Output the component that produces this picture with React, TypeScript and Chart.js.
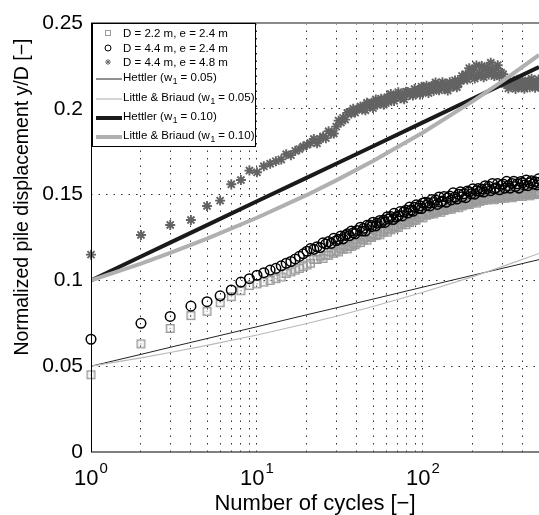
import React, { useEffect, useRef } from 'react';
import { Chart, registerables } from 'chart.js';

Chart.register(...registerables);

// ---------- data ----------
const cycles = [
  1, 2, 3, 4, 5, 6, 7, 8, 9, 10, 11, 12, 13, 14, 15, 16, 17, 18, 19, 20,
  21, 22, 23, 24, 25, 26, 27, 28, 29, 30, 31, 32, 33, 34, 35, 36, 37, 38, 39, 40,
  42, 43, 44, 45, 46, 48, 49, 50, 52, 53, 55, 56, 58, 59, 61, 62, 64, 66, 67, 69,
  71, 73, 75, 77, 79, 81, 83, 85, 87, 89, 91, 94, 96, 98, 100,
  103, 105, 108, 110, 113, 116, 119, 122, 125, 128, 131, 134, 138, 141, 145, 148, 152, 156, 160, 164,
  168, 172, 176, 181, 185, 190, 195, 200, 205, 210, 215, 220, 226, 232, 237, 243, 249, 256, 262, 269,
  275, 282, 289, 296, 304, 311, 319, 327, 335, 344, 352, 361, 370, 379, 389, 398, 408, 419, 429, 440,
  451, 462, 474, 485, 497, 500,
];

// D = 2.2 m, e = 2.4 m (squares)
const pileD22e24 = [
  0.045, 0.063, 0.072, 0.0795, 0.082, 0.087, 0.0905, 0.094, 0.097, 0.098, 0.099, 0.1, 0.101, 0.102, 0.104, 0.105, 0.106, 0.107, 0.108, 0.109,
  0.11, 0.1122, 0.1122, 0.1141, 0.1128, 0.1147, 0.1146, 0.1166, 0.1158, 0.117, 0.1166, 0.1185, 0.1182, 0.1199, 0.1184, 0.1201, 0.1198, 0.1217, 0.1208, 0.1218,
  0.1221, 0.1239, 0.1235, 0.1251, 0.1235, 0.1255, 0.125, 0.1268, 0.1261, 0.127, 0.1266, 0.1284, 0.1281, 0.1296, 0.1282, 0.1298, 0.1295, 0.1314, 0.1304, 0.1315,
  0.1309, 0.1328, 0.1325, 0.1341, 0.1325, 0.1342, 0.1338, 0.1356, 0.1348, 0.1357, 0.1351, 0.1371, 0.1366, 0.1382, 0.1365,
  0.1386, 0.138, 0.1397, 0.1386, 0.1395, 0.1388, 0.1405, 0.14, 0.1414, 0.1397, 0.1412, 0.1407, 0.1424, 0.1413, 0.1422, 0.1415, 0.1432, 0.1426, 0.1441, 0.1424,
  0.1439, 0.1434, 0.1451, 0.1441, 0.1449, 0.1442, 0.1459, 0.1453, 0.1468, 0.1451, 0.1466, 0.1461, 0.1478, 0.1467, 0.1476, 0.1469, 0.1485, 0.1475, 0.1488, 0.147,
  0.1484, 0.1477, 0.1492, 0.148, 0.1488, 0.1479, 0.1494, 0.1487, 0.15, 0.1482, 0.1496, 0.1489, 0.1504, 0.1492, 0.1499, 0.149, 0.1505, 0.1499, 0.1512, 0.1493,
  0.1507, 0.15, 0.1515, 0.1504, 0.1511, 0.1501,
];

// D = 4.4 m, e = 2.4 m (circles)
const pileD44e24 = [
  0.0657, 0.075, 0.079, 0.085, 0.0876, 0.091, 0.0944, 0.099, 0.101, 0.103, 0.1045, 0.106, 0.107, 0.1085, 0.11, 0.111, 0.1125, 0.114, 0.1155, 0.117,
  0.1185, 0.1181, 0.1196, 0.1191, 0.1219, 0.1212, 0.1226, 0.1216, 0.1245, 0.1231, 0.124, 0.1259, 0.1242, 0.1262, 0.1271, 0.126, 0.1287, 0.1277, 0.1272, 0.1291,
  0.131, 0.1288, 0.1304, 0.1288, 0.1321, 0.1322, 0.1313, 0.1339, 0.1318, 0.1334, 0.1349, 0.1337, 0.1351, 0.1338, 0.1371, 0.1358, 0.1372, 0.1355, 0.1391, 0.1369,
  0.1377, 0.1401, 0.1376, 0.14, 0.1409, 0.1393, 0.1427, 0.141, 0.1403, 0.1426, 0.144, 0.142, 0.1435, 0.1419, 0.1451,
  0.1455, 0.1437, 0.1452, 0.1434, 0.1471, 0.1453, 0.1468, 0.1443, 0.1486, 0.1456, 0.1463, 0.1489, 0.1455, 0.1482, 0.1491, 0.1469, 0.151, 0.1486, 0.1474, 0.1502,
  0.1516, 0.1487, 0.1505, 0.1482, 0.1521, 0.1516, 0.1504, 0.1534, 0.1503, 0.1522, 0.1535, 0.1518, 0.1533, 0.1515, 0.1552, 0.1534, 0.1548, 0.1523, 0.1565, 0.1534,
  0.154, 0.1564, 0.1528, 0.1554, 0.1562, 0.1538, 0.1577, 0.1552, 0.1538, 0.1565, 0.1578, 0.1547, 0.1563, 0.1538, 0.1576, 0.1569, 0.1555, 0.1585, 0.1552, 0.1569,
  0.1581, 0.1562, 0.1575, 0.1557, 0.1592, 0.1571,
];

// D = 4.4 m, e = 4.8 m (asterisks)
const pileD44e48 = [
  0.115, 0.1265, 0.1323, 0.1352, 0.1434, 0.1465, 0.156, 0.1585, 0.164, 0.163, 0.1665, 0.168, 0.1695, 0.1705, 0.1735, 0.173, 0.1755, 0.1765, 0.178, 0.179,
  0.18, 0.1824, 0.1799, 0.1824, 0.1839, 0.1829, 0.1869, 0.1858, 0.1856, 0.1896, 0.1931, 0.192, 0.1947, 0.1937, 0.1976, 0.198, 0.1973, 0.2, 0.1978, 0.1996,
  0.2013, 0.1996, 0.2014, 0.1992, 0.2035, 0.2017, 0.2035, 0.2004, 0.2054, 0.2023, 0.2033, 0.2059, 0.2023, 0.2056, 0.2067, 0.204, 0.2086, 0.2063, 0.2046, 0.2079,
  0.2097, 0.2062, 0.2083, 0.2055, 0.21, 0.2098, 0.2081, 0.2094, 0.2077, 0.2115, 0.2097, 0.211, 0.2084, 0.2129, 0.2098,
  0.2105, 0.2134, 0.2092, 0.2124, 0.2133, 0.2105, 0.2153, 0.2124, 0.2108, 0.214, 0.2155, 0.2118, 0.2138, 0.2107, 0.2154, 0.2145, 0.2129, 0.2165, 0.2126, 0.2147,
  0.2164, 0.2192, 0.2171, 0.2202, 0.2171, 0.2237, 0.22, 0.2226, 0.2176, 0.2252, 0.2195, 0.2204, 0.2249, 0.2184, 0.2229, 0.2242, 0.22, 0.2268, 0.2221, 0.2191,
  0.2234, 0.2254, 0.219, 0.221, 0.2201, 0.2145, 0.2147, 0.2119, 0.2163, 0.2136, 0.2152, 0.2116, 0.217, 0.2128, 0.2134, 0.2165, 0.2117, 0.215, 0.2158, 0.2126,
  0.2175, 0.2142, 0.2123, 0.2155, 0.2171, 0.2129,
];

const modelCycles = [1, 2, 3, 5, 10, 20, 30, 50, 100, 200, 300, 500];
const hettler005 = [0.05, 0.0569, 0.061, 0.0661, 0.073, 0.08, 0.084, 0.0891, 0.0961, 0.103, 0.107, 0.1121];
const littleBriaud005 = [0.05, 0.0549, 0.058, 0.0621, 0.0682, 0.0749, 0.0791, 0.0848, 0.0931, 0.1022, 0.108, 0.1157];
const hettler010 = [0.1, 0.1139, 0.122, 0.1322, 0.1461, 0.1599, 0.168, 0.1782, 0.1921, 0.206, 0.2141, 0.2243];
const littleBriaud010 = [0.1, 0.1098, 0.116, 0.1243, 0.1365, 0.1498, 0.1583, 0.1696, 0.1862, 0.2045, 0.216, 0.2314];

const seriesLabels = [
  'D = 2.2 m, e = 2.4 m',
  'D = 4.4 m, e = 2.4 m',
  'D = 4.4 m, e = 4.8 m',
  'Hettler (w_1 = 0.05)',
  'Little & Briaud (w_1 = 0.05)',
  'Hettler (w_1 = 0.10)',
  'Little & Briaud (w_1 = 0.10)',
];

const yTicks = [0, 0.05, 0.1, 0.15, 0.2, 0.25];
const yTickLabels = ['0', '0.05', '0.1', '0.15', '0.2', '0.25'];
const xGridTicks = [1, 2, 3, 4, 5, 6, 7, 8, 9, 10, 20, 30, 40, 50, 60, 70, 80, 90, 100, 200, 300, 400, 500];
const xMajorTicks = [1, 10, 100];
const xMajorExponents = ['0', '1', '2'];
const xTitle = 'Number of cycles [\u2212]';
const yTitle = 'Normalized pile displacement y/D [\u2212]';

// ---------- drawing helpers ----------
const FONT = '"Liberation Sans", Arial, Helvetica, sans-serif';

function drawSubText(ctx: CanvasRenderingContext2D, text: string, x: number, yMid: number) {
  const base = yMid + 4.2;
  const parts = text.split('_1');
  ctx.textAlign = 'left';
  ctx.textBaseline = 'alphabetic';
  ctx.font = `11.5px ${FONT}`;
  ctx.fillText(parts[0], x, base);
  let cx = x + ctx.measureText(parts[0]).width;
  if (parts.length > 1) {
    ctx.font = `8.5px ${FONT}`;
    ctx.fillText('1', cx + 0.5, base + 3);
    cx += ctx.measureText('1').width + 0.5;
    ctx.font = `11.5px ${FONT}`;
    ctx.fillText(parts[1], cx, base);
  }
}

const zeroPad = (s: any) => {
  s.paddingLeft = 0;
  s.paddingRight = 0;
  s.paddingTop = 0;
  s.paddingBottom = 0;
};

const decorPlugin = {
  id: 'decor',
  afterDraw(chart: any) {
    const { ctx, chartArea: a, scales } = chart;
    const xs = scales.x;
    const ys = scales.y;
    ctx.save();
    ctx.setLineDash([]);

    // axes box
    ctx.strokeStyle = '#8a8a8a';
    ctx.lineWidth = 2;
    ctx.beginPath();
    ctx.moveTo(a.left, a.top);
    ctx.lineTo(a.right, a.top);
    ctx.stroke();
    ctx.strokeStyle = '#555';
    ctx.lineWidth = 1.5;
    ctx.beginPath();
    ctx.moveTo(a.left, a.bottom);
    ctx.lineTo(a.right, a.bottom);
    ctx.stroke();
    ctx.strokeStyle = '#000';
    ctx.lineWidth = 1;
    ctx.beginPath();
    ctx.moveTo(a.left + 0.5, a.top);
    ctx.lineTo(a.left + 0.5, a.bottom);
    ctx.stroke();

    // y tick labels
    ctx.fillStyle = '#000';
    ctx.font = `21px ${FONT}`;
    ctx.textAlign = 'right';
    ctx.textBaseline = 'middle';
    yTicks.forEach((v, i) => ctx.fillText(yTickLabels[i], a.left - 8, ys.getPixelForValue(v)));

    // x tick labels 10^k
    ctx.textAlign = 'left';
    ctx.textBaseline = 'alphabetic';
    xMajorTicks.forEach((v, i) => {
      const px = xs.getPixelForValue(v);
      ctx.font = `22px ${FONT}`;
      const wb = ctx.measureText('10').width;
      ctx.font = `15px ${FONT}`;
      const we = ctx.measureText(xMajorExponents[i]).width;
      const start = px - (wb + we + 1) / 2;
      ctx.font = `22px ${FONT}`;
      ctx.fillText('10', start, a.bottom + 33);
      ctx.font = `15px ${FONT}`;
      ctx.fillText(xMajorExponents[i], start + wb + 1, a.bottom + 21);
    });

    // axis titles
    ctx.font = `22px ${FONT}`;
    ctx.textAlign = 'center';
    ctx.fillText(xTitle, (a.left + a.right) / 2, a.bottom + 58);
    ctx.save();
    ctx.translate(28, 197);
    ctx.rotate(-Math.PI / 2);
    ctx.font = `19.5px ${FONT}`;
    ctx.fillText(yTitle, 0, 0);
    ctx.restore();

    // legend
    const lx = a.left + 1;
    const ly = a.top;
    const lw = 164;
    const lh = 124;
    ctx.fillStyle = '#fff';
    ctx.fillRect(lx, ly, lw, lh);
    ctx.strokeStyle = '#000';
    ctx.lineWidth = 1;
    ctx.strokeRect(lx + 0.5, ly + 0.5, lw - 1, lh - 1);
    const rows = [10, 25, 39, 54, 74, 93, 112];
    const ds = chart.data.datasets;
    ds.forEach((d: any, i: number) => {
      const y = ly + rows[i];
      const mx = lx + 16;
      if (i === 0) {
        ctx.strokeStyle = '#999';
        ctx.lineWidth = 1;
        ctx.strokeRect(mx - 2.5, y - 2.5, 5, 5);
      } else if (i === 1) {
        ctx.strokeStyle = '#000';
        ctx.lineWidth = 1;
        ctx.beginPath();
        ctx.arc(mx, y, 3, 0, Math.PI * 2);
        ctx.stroke();
      } else if (i === 2) {
        ctx.strokeStyle = '#666';
        ctx.lineWidth = 1;
        ctx.beginPath();
        for (let k = 0; k < 4; k++) {
          const ang = (k * Math.PI) / 4;
          ctx.moveTo(mx - 3 * Math.cos(ang), y - 3 * Math.sin(ang));
          ctx.lineTo(mx + 3 * Math.cos(ang), y + 3 * Math.sin(ang));
        }
        ctx.stroke();
      } else {
        ctx.strokeStyle = d.borderColor;
        ctx.lineWidth = d.borderWidth;
        ctx.beginPath();
        ctx.moveTo(lx + 4, y + 2);
        ctx.lineTo(lx + 30, y + 2);
        ctx.stroke();
      }
      ctx.fillStyle = '#000';
      drawSubText(ctx, d.label, lx + 31, y);
    });

    ctx.restore();
  },
};

function makeSquareMarker(): HTMLCanvasElement {
  const c = document.createElement('canvas');
  c.width = 11;
  c.height = 11;
  const g = c.getContext('2d')!;
  g.strokeStyle = '#9a9a9a';
  g.lineWidth = 1.4;
  g.strokeRect(1.7, 1.7, 7.6, 7.6);
  g.fillStyle = '#9a9a9a';
  g.fillRect(4.8, 4.8, 1.4, 1.4);
  return c;
}

export default function App() {
  const ref = useRef<HTMLCanvasElement | null>(null);

  useEffect(() => {
    if (!ref.current) return;
    const pts = (xs: number[], ysArr: number[]) => xs.map((x, i) => ({ x, y: ysArr[i] }));
    const squareMarker = makeSquareMarker();
    const transparent = 'rgba(0,0,0,0)';

    const chart = new Chart(ref.current, {
      type: 'scatter',
      data: {
        datasets: [
          {
            label: seriesLabels[0],
            data: pts(cycles, pileD22e24),
            pointStyle: squareMarker as any,
            pointRadius: 5,
            pointBorderColor: '#9a9a9a',
            pointBackgroundColor: transparent,
            showLine: false,
            order: 6,
            clip: false as any,
          },
          {
            label: seriesLabels[1],
            data: pts(cycles, pileD44e24),
            pointStyle: 'circle',
            pointRadius: 4.8,
            pointBorderColor: '#000',
            pointBorderWidth: 1.5,
            pointBackgroundColor: transparent,
            showLine: false,
            order: 5,
            clip: false as any,
          },
          {
            label: seriesLabels[2],
            data: pts(cycles, pileD44e48),
            pointStyle: 'star',
            pointRadius: 5,
            pointBorderColor: '#636363',
            pointBorderWidth: 1.9,
            pointBackgroundColor: transparent,
            showLine: false,
            order: 4,
            clip: false as any,
          },
          {
            label: seriesLabels[3],
            data: pts(modelCycles, hettler005),
            showLine: true,
            borderColor: '#222',
            borderWidth: 1,
            pointRadius: 0,
            order: 3,
          },
          {
            label: seriesLabels[4],
            data: pts(modelCycles, littleBriaud005),
            showLine: true,
            borderColor: '#b8b8b8',
            borderWidth: 1.2,
            pointRadius: 0,
            order: 2,
          },
          {
            label: seriesLabels[5],
            data: pts(modelCycles, hettler010),
            showLine: true,
            borderColor: '#1a1a1a',
            borderWidth: 4,
            pointRadius: 0,
            order: 1,
          },
          {
            label: seriesLabels[6],
            data: pts(modelCycles, littleBriaud010),
            showLine: true,
            borderColor: '#b0b0b0',
            borderWidth: 4,
            pointRadius: 0,
            order: 0,
          },
        ],
      },
      options: {
        animation: false,
        responsive: false,
        events: [],
        layout: { autoPadding: false, padding: { left: 91, top: 23, right: 0, bottom: 63 } },
        plugins: { legend: { display: false }, tooltip: { enabled: false } },
        scales: {
          x: {
            type: 'logarithmic',
            min: 1,
            max: 500,
            afterBuildTicks: (s: any) => {
              s.ticks = xGridTicks.map((v) => ({ value: v }));
            },
            afterFit: (s: any) => {
              s.height = 0;
              zeroPad(s);
            },
            ticks: { display: false },
            grid: {
              drawTicks: false,
              lineWidth: 1,
              color: (c: any) =>
                c.tick && (c.tick.value === 1 || c.tick.value === 500) ? transparent : '#333',
            },
            border: { display: false, dash: [1.5, 6] },
          },
          y: {
            type: 'linear',
            min: 0,
            max: 0.25,
            afterBuildTicks: (s: any) => {
              s.ticks = yTicks.map((v) => ({ value: v }));
            },
            afterFit: (s: any) => {
              s.width = 0;
              zeroPad(s);
            },
            ticks: { display: false },
            grid: {
              drawTicks: false,
              lineWidth: 1,
              color: (c: any) =>
                c.tick && (c.tick.value === 0 || c.tick.value === 0.25) ? transparent : '#333',
            },
            border: { display: false, dash: [1.5, 6] },
          },
        },
      } as any,
      plugins: [decorPlugin],
    });
    return () => chart.destroy();
  }, []);

  return (
    <div style={{ position: 'fixed', left: 0, top: 0, width: 539, height: 515, background: '#fff' }}>
      <canvas ref={ref} width={539} height={515} style={{ display: 'block', width: 539, height: 515 }} />
    </div>
  );
}
